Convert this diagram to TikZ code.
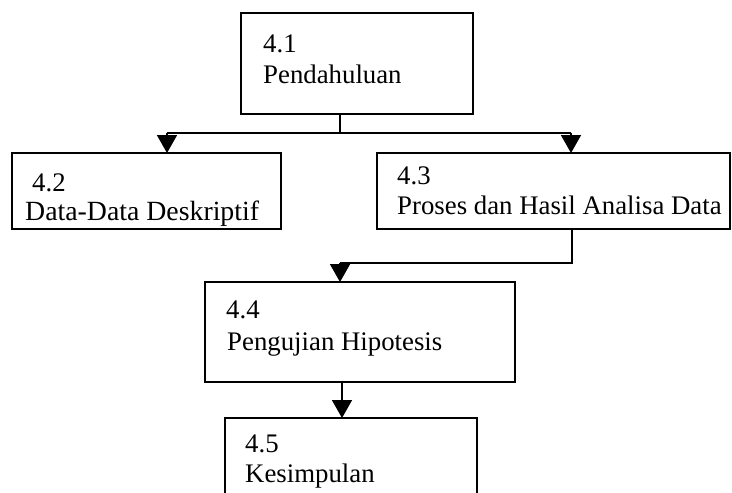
\documentclass[tikz,border=0pt]{standalone}
\usepackage{fontspec}
\setmainfont{Liberation Serif}
\usetikzlibrary{arrows.meta}
\begin{document}
\begin{tikzpicture}[x=1pt,y=-1pt,
  box/.style={draw, line width=1.8pt, inner sep=0pt, outer sep=0pt},
  lbl/.style={anchor=base west, inner sep=0pt, font=\fontsize{26.8}{30}\selectfont},
  link/.style={line width=1.8pt},
  arr/.style={link, -{Triangle[width=20pt,length=18pt]}}]
\useasboundingbox (0,0) rectangle (732,493);
\clip (0,0) rectangle (732,493);
\fill[white] (0,0) rectangle (732,493);

% boxes
\node[box, minimum width=232pt, minimum height=101pt] (b41) at (357,63.5) {};
\node[box, minimum width=269pt, minimum height=76pt] (b42) at (146.5,191) {};
\node[box, minimum width=353pt, minimum height=76pt] (b43) at (553.5,191) {};
\node[box, minimum width=310pt, minimum height=100pt] (b44) at (360,332) {};
\node[box, minimum width=252pt, minimum height=102pt] (b45) at (351,469) {};

% labels
\node[lbl] (t41a) at (263,52) {4.1};
\node[lbl] (t41b) at (263,83) {Pendahuluan};
\node[lbl] (t42a) at (32,191) {4.2};
\node[lbl, font=\fontsize{27.8}{30}\selectfont] (t42b) at (25,220) {Data-Data Deskriptif};
\node[lbl] (t43a) at (397,184) {4.3};
\node[lbl] (t43b) at (397,214) {Proses dan Hasil Analisa Data};
\node[lbl] (t44a) at (226,318) {4.4};
\node[lbl] (t44b) at (227,350) {Pengujian Hipotesis};
\node[lbl] (t45a) at (245,452) {4.5};
\node[lbl] (t45b) at (245,482) {Kesimpulan};

% junction and bend points
\coordinate (j1) at (340,133);
\coordinate (k42) at (167,133);
\coordinate (k43) at (571,133);
\coordinate (j2) at (572,263);
\coordinate (k44) at (340,263);
\coordinate (k45) at (342,0);

% connectors
\draw[link] (b41.south -| j1) -- (j1);
\draw[link] (k42) -- (k43);
\draw[arr] (k42) -- (k42 |- b42.north);
\draw[arr] (k43) -- (k43 |- b43.north);
\draw[link] (b43.south -| j2) -- (j2) -- (k44);
\draw[arr] (k44) -- (k44 |- b44.north);
\draw[arr] (b44.south -| k45) -- (b45.north -| k45);
\end{tikzpicture}
\end{document}
